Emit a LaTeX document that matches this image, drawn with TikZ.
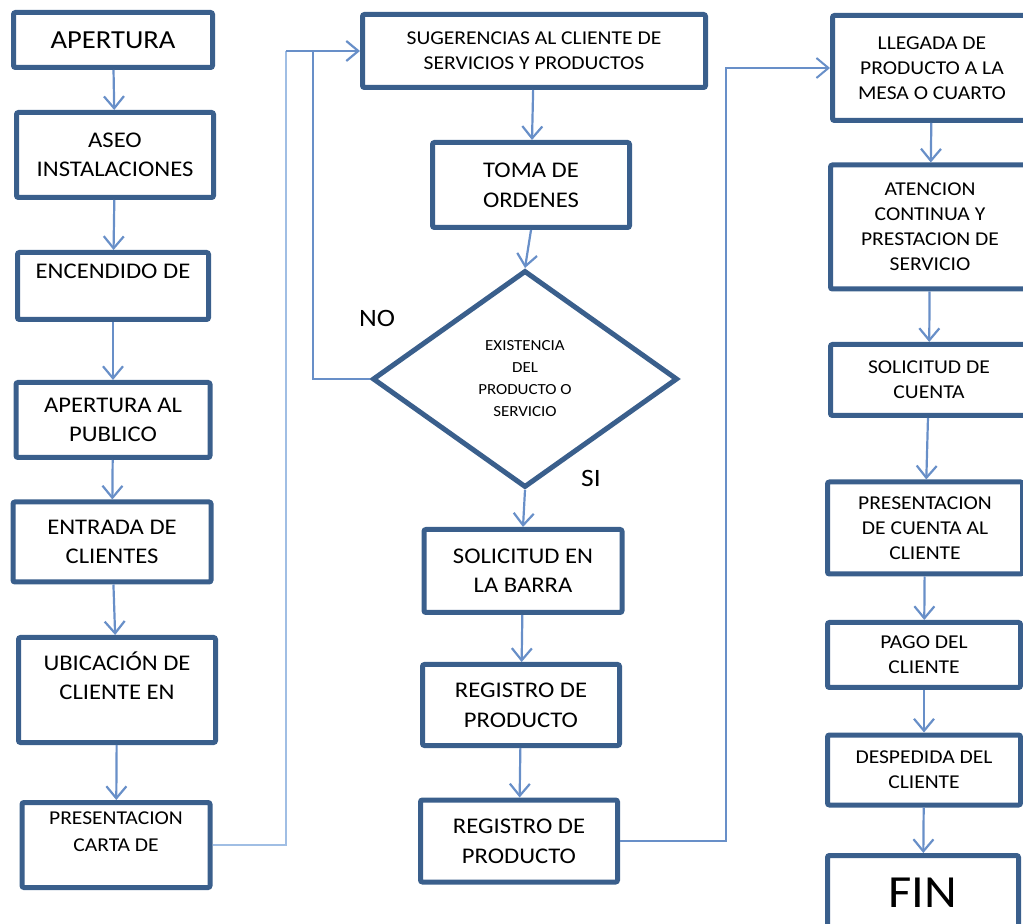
\documentclass[tikz,border=0pt]{standalone}
\usepackage{fontspec}
\setmainfont[FakeStretch=1.1]{Carlito}
\usetikzlibrary{shapes.geometric,arrows.meta}
\definecolor{borde}{RGB}{58,95,140}
\definecolor{flechac}{RGB}{104,143,200}
\definecolor{lineaclara}{RGB}{160,190,228}
\tikzset{
  caja/.style={draw = borde, line width = 2.5pt, rounded corners = 1pt, fill = white, align = center, inner sep = 2pt},
  txtgrande/.style={font = \fontsize{11.2}{14.5}\selectfont},
  txtchico/.style={font = \fontsize{9.8}{12.5}\selectfont},
  flecha/.style={draw = flechac, line width = 1.1pt, -{Straight Barb[length = 6pt, width = 10pt]}},
  conector/.style={draw = lineaclara, line width = 1.3pt}
}
\begin{document}
\begin{tikzpicture}[x = 0.5pt, y = -0.5pt]
        \useasboundingbox (0,0) rectangle (1023,924);
        \clip (0,0) rectangle (1023,924);
        % columna izquierda
        \node[caja, minimum width = 99.5pt, minimum height = 27.5pt, font = \fontsize{13}{15}\selectfont] (ap) at (113,40) {APERTURA};
        \node[caja, txtgrande, minimum width = 98.5pt, minimum height = 42.5pt] (aseo) at (115,155) {ASEO\\INSTALACIONES};
        \node[caja, txtgrande, minimum width = 95.5pt, minimum height = 33.5pt] (enc) at (113,286) {ENCENDIDO DE\\ ~};
        \node[caja, txtgrande, minimum width = 97pt, minimum height = 37.5pt] (apub) at (113,420) {APERTURA AL\\PUBLICO};
        \node[caja, txtgrande, minimum width = 99pt, minimum height = 40pt] (entr) at (112,542) {ENTRADA DE\\CLIENTES};
        \node[caja, txtgrande, minimum width = 98.5pt, minimum height = 52.5pt] (ubic) at (117,690) {UBICACIÓN DE\\CLIENTE EN\\ ~};
        \node[caja, font = \fontsize{9.8}{13.5}\selectfont, minimum width = 94pt, minimum height = 42.5pt] (pres) at (116,845) {PRESENTACION\\CARTA DE\\ ~};
        % columna central
        \node[caja, txtchico, minimum width = 171.5pt, minimum height = 36.5pt] (sug) at (534,51) {SUGERENCIAS AL CLIENTE DE\\SERVICIOS Y PRODUCTOS};
        \node[caja, font = \fontsize{11.2}{15}\selectfont, minimum width = 98.5pt, minimum height = 42.5pt] (toma) at (531,185) {TOMA DE\\ORDENES};
        \node[caja, shape = diamond, font = \fontsize{7.7}{11}\selectfont, minimum width = 152.5pt, minimum height = 108.5pt, rounded corners = 0pt] (exist) at (525,379) {EXISTENCIA\\DEL\\PRODUCTO O\\SERVICIO};
        \node[caja, font = \fontsize{11.2}{14.5}\selectfont, minimum width = 99pt, minimum height = 41.5pt] (sol) at (523,571) {SOLICITUD EN\\LA BARRA};
        \node[caja, font = \fontsize{11.2}{15}\selectfont, minimum width = 98.5pt, minimum height = 40.5pt] (reg1) at (521,705) {REGISTRO DE\\PRODUCTO};
        \node[caja, font = \fontsize{11.2}{15}\selectfont, minimum width = 98.5pt, minimum height = 41pt] (reg2) at (519,841) {REGISTRO DE\\PRODUCTO};
        \node[font = \fontsize{12.5}{14}\selectfont] (no) at (377,318) {NO};
        \node[font = \fontsize{12.5}{14}\selectfont] (si) at (591,478) {SI};
        % columna derecha
        \node[caja, txtchico, minimum width = 99.5pt, minimum height = 52.5pt] (lleg) at (932,68) {LLEGADA DE\\PRODUCTO A LA\\MESA O CUARTO};
        \node[caja, txtchico, minimum width = 99.5pt, minimum height = 62pt] (aten) at (930,227) {ATENCION\\CONTINUA Y\\PRESTACION DE\\SERVICIO};
        \node[caja, txtchico, minimum width = 98.5pt, minimum height = 35.5pt] (scta) at (929,380) {SOLICITUD DE\\CUENTA};
        \node[caja, txtchico, minimum width = 97.5pt, minimum height = 46pt] (pcta) at (925,528) {PRESENTACION\\DE CUENTA AL\\CLIENTE};
        \node[caja, txtchico, minimum width = 96.5pt, minimum height = 32.5pt] (pago) at (924,655) {PAGO DEL\\CLIENTE};
        \node[caja, txtchico, minimum width = 96.5pt, minimum height = 35pt] (desp) at (924,770) {DESPEDIDA DEL\\CLIENTE};
        \node[caja, font = \fontsize{23}{26}\selectfont, minimum width = 95.5pt, minimum height = 37.5pt] (fin) at (923,893) {FIN};
        % esquinas de los conectores
        \coordinate (esqizq) at (286,51);
        \coordinate (esqno) at (313,51);
        \coordinate (esqder) at (726,68);
        % flechas
        \draw[flecha] (ap) -- (aseo);
        \draw[flecha] (aseo) -- (enc);
        \draw[flecha] (enc) -- (apub);
        \draw[flecha] (apub) -- (entr);
        \draw[flecha] (entr) -- (ubic);
        \draw[flecha] (ubic) -- (pres);
        \draw[conector] (pres.east) -| (esqizq);
        \draw[flecha] (esqizq) -- (sug.west);
        \draw[flecha, line width = 1pt, -] (exist.west) -| (esqno);
        \draw[flecha] (sug) -- (toma);
        \draw[flecha] (toma.south) -- (exist.north);
        \draw[flecha] (exist.south) -- (sol.north);
        \draw[flecha] (sol) -- (reg1);
        \draw[flecha] (reg1) -- (reg2);
        \draw[flecha, line width = 1pt] (reg2.east) -| (esqder) -- (lleg.west);
        \draw[flecha] (lleg) -- (aten);
        \draw[flecha] (aten) -- (scta);
        \draw[flecha] (scta) -- (pcta);
        \draw[flecha] (pcta) -- (pago);
        \draw[flecha] (pago) -- (desp);
        \draw[flecha] (desp) -- (fin);
\end{tikzpicture}
\end{document}
